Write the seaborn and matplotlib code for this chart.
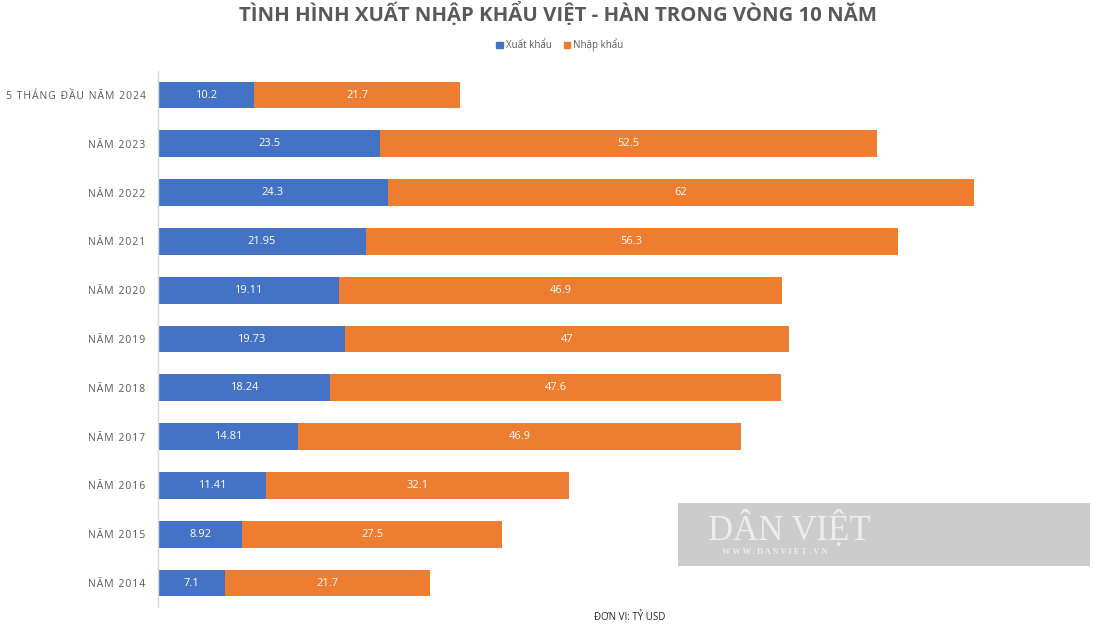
import matplotlib
matplotlib.use("Agg")
import matplotlib.pyplot as plt
import seaborn as sns
import pandas as pd
from matplotlib.patches import Patch, Rectangle

categories = ["5 THÁNG ĐẦU NĂM 2024", "NĂM 2023", "NĂM 2022", "NĂM 2021", "NĂM 2020",
              "NĂM 2019", "NĂM 2018", "NĂM 2017", "NĂM 2016", "NĂM 2015", "NĂM 2014"]
xuat_khau = [10.2, 23.5, 24.3, 21.95, 19.11, 19.73, 18.24, 14.81, 11.41, 8.92, 7.1]
nhap_khau = [21.7, 52.5, 62, 56.3, 46.9, 47, 47.6, 46.9, 32.1, 27.5, 21.7]
xk_labels = ["10.2", "23.5", "24.3", "21.95", "19.11", "19.73", "18.24", "14.81", "11.41", "8.92", "7.1"]
nk_labels = ["21.7", "52.5", "62", "56.3", "46.9", "47", "47.6", "46.9", "32.1", "27.5", "21.7"]

BLUE = "#4472C4"
ORANGE = "#ED7D31"
GREY = "#595959"

sns.set_theme(style="white")
plt.rcParams["font.family"] = ["Open Sans", "DejaVu Sans"]

df = pd.DataFrame({"cat": categories, "xk": xuat_khau, "nk": nhap_khau})
df["total"] = df["xk"] + df["nk"]

fig = plt.figure(figsize=(10.93, 6.31), dpi=100)
ax = fig.add_axes([158 / 1093, 1 - 607.4 / 631, (1085 - 158) / 1093, (607.4 - 70.6) / 631])

sns.barplot(data=df, y="cat", x="total", color=ORANGE, saturation=1, width=0.55,
            ax=ax, orient="h", linewidth=0)
sns.barplot(data=df, y="cat", x="xk", color=BLUE, saturation=1, width=0.55,
            ax=ax, orient="h", linewidth=0)

ax.set_xlim(0, (1085 - 158) / 9.455)
ax.set_ylim(10.5, -0.5)
ax.set_xlabel("")
ax.set_ylabel("")
ax.set_xticks([])
for s in ["top", "right", "bottom"]:
    ax.spines[s].set_visible(False)
ax.spines["left"].set_color("#D9D9D9")
ax.spines["left"].set_linewidth(1)

def spaced(t):
    return "\u200a".join(list(t))

ax.set_yticks(range(len(categories)))
ax.set_yticklabels([spaced(c) for c in categories], fontsize=7.5, color=GREY)
ax.tick_params(axis="y", length=0, pad=9)

for i in range(len(categories)):
    ax.text(xuat_khau[i] / 2, i, xk_labels[i], ha="center", va="center",
            color="white", fontsize=8)
    ax.text(xuat_khau[i] + nhap_khau[i] / 2, i, nk_labels[i], ha="center", va="center",
            color="white", fontsize=8)

fig.text(558 / 1093, 1 - 14 / 631, "TÌNH HÌNH XUẤT NHẬP KHẨU VIỆT - HÀN TRONG VÒNG 10 NĂM",
         ha="center", va="center", fontsize=14.7, fontweight="bold", color=GREY)

handles = [Patch(color=BLUE, label="Xuất khẩu"), Patch(color=ORANGE, label="Nhập khẩu")]
fig.legend(handles=handles, loc="center", bbox_to_anchor=(560 / 1093, 1 - 45 / 631),
           ncol=2, frameon=False, fontsize=7, handlelength=0.7, handleheight=0.7,
           handletextpad=0.3, columnspacing=1.2, labelcolor=GREY)

fig.text(630 / 1093, 1 - 617 / 631, "ĐƠN VỊ: TỶ USD", ha="center", va="center",
         fontsize=7, color="#262626")

# watermark box
fig.patches.append(Rectangle((678 / 1093, 1 - 566 / 631), (1090 - 678) / 1093, (566 - 503) / 631,
                             transform=fig.transFigure, facecolor="#CCCCCC", edgecolor="none",
                             zorder=5))
fig.text(789 / 1093, 1 - 529 / 631, "DÂN VIỆT", ha="center", va="center", fontsize=25,
         family="Liberation Serif", color="#EDEDED", zorder=6)
fig.text(775 / 1093, 1 - 552 / 631, "W W W . D A N V I E T . V N", ha="center", va="center",
         fontsize=6, family="Liberation Serif", fontweight="bold", color="#EDEDED", zorder=6)

fig.savefig("out.png", dpi=100)
